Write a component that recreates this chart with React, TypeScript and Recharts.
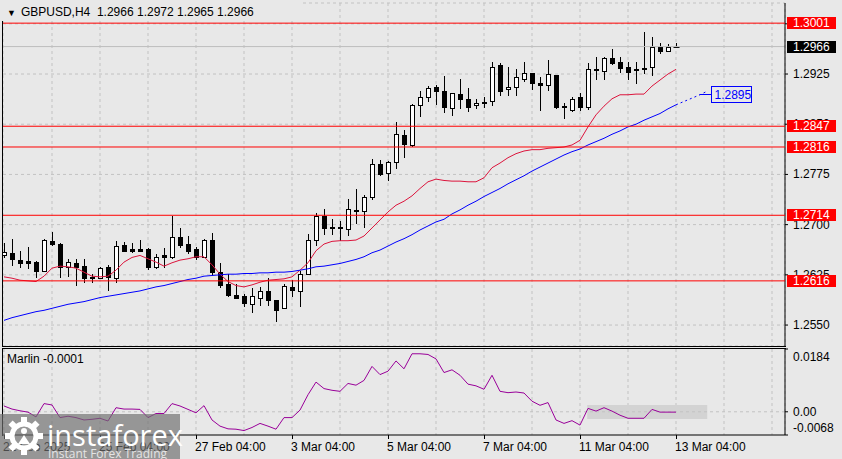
import React from 'react';
import {
  ComposedChart,
  Bar,
  Line,
  XAxis,
  YAxis,
  CartesianGrid,
  ReferenceLine,
  ReferenceArea,
  ReferenceDot,
} from 'recharts';

const FONT = "'Liberation Sans', Arial, sans-serif";
const BG = '#e8e8e8';
const GRID = '#c2c2c2';

// GBPUSD H4, 21 Feb 2025 04:00 .. 13 Mar 2025 04:00
const openPrices = [
  1.2655, 1.2658, 1.2647, 1.2645, 1.2644, 1.2631, 1.2676, 1.2671, 1.2636, 1.2642,
  1.2638, 1.2622, 1.2621, 1.2637, 1.2621, 1.267, 1.2663, 1.2664, 1.2664, 1.2637,
  1.2654, 1.2652, 1.2681, 1.2671, 1.2664, 1.2652, 1.2677, 1.2629, 1.2611, 1.2595,
  1.2593, 1.2582, 1.2591, 1.2601, 1.2587, 1.2576, 1.2607, 1.2601, 1.2627, 1.2677,
  1.2713, 1.2697, 1.2695, 1.2693, 1.2721, 1.272, 1.2741, 1.279, 1.2777, 1.2794,
  1.2834, 1.2819, 1.2878, 1.289, 1.2906, 1.29, 1.2874, 1.2895, 1.2887, 1.2878,
  1.2883, 1.2884, 1.2939, 1.2902, 1.2905, 1.2917, 1.2926, 1.2911, 1.2908, 1.2923,
  1.2877, 1.2871, 1.289, 1.2875, 1.2931, 1.293, 1.2949, 1.2943, 1.2935, 1.2932,
  1.2934, 1.2935, 1.2966, 1.296, 1.2966,
];
const highPrices = [
  1.2673, 1.2678, 1.266, 1.2666, 1.2645, 1.2678, 1.2689, 1.2673, 1.2649, 1.2649,
  1.2648, 1.2627, 1.2637, 1.264, 1.2676, 1.2674, 1.2673, 1.2677, 1.2665, 1.2656,
  1.2665, 1.2713, 1.2695, 1.2683, 1.2666, 1.2678, 1.2687, 1.2643, 1.2626, 1.2612,
  1.2597, 1.2605, 1.2607, 1.262, 1.2588, 1.2611, 1.2617, 1.2631, 1.2686, 1.2717,
  1.2724, 1.2708, 1.2705, 1.2739, 1.2753, 1.2744, 1.2798, 1.2796, 1.2795, 1.2854,
  1.2841, 1.288, 1.29, 1.2907, 1.2908, 1.2922, 1.2897, 1.2918, 1.2904, 1.2888,
  1.289, 1.2943, 1.2941, 1.2935, 1.2933, 1.2943, 1.2927, 1.2921, 1.2946, 1.2924,
  1.2881, 1.289, 1.2896, 1.2941, 1.295, 1.295, 1.2963, 1.295, 1.2943, 1.2943,
  1.2988, 1.2981, 1.2971, 1.297, 1.2972,
];
const lowPrices = [
  1.2652, 1.264, 1.2637, 1.2635, 1.2622, 1.263, 1.267, 1.2622, 1.2623, 1.261,
  1.2614, 1.2614, 1.262, 1.2602, 1.2614, 1.266, 1.2659, 1.266, 1.2633, 1.2635,
  1.2636, 1.265, 1.2666, 1.2658, 1.2648, 1.2651, 1.2625, 1.2607, 1.2593, 1.259,
  1.2578, 1.257, 1.258, 1.258, 1.2556, 1.2575, 1.2594, 1.2579, 1.2626, 1.267,
  1.2686, 1.2686, 1.2677, 1.2685, 1.2702, 1.2697, 1.2739, 1.2774, 1.2766, 1.2785,
  1.2801, 1.2818, 1.2863, 1.2885, 1.288, 1.2868, 1.2864, 1.2874, 1.287, 1.2874,
  1.2875, 1.2878, 1.2893, 1.2893, 1.2894, 1.2914, 1.2903, 1.2871, 1.2901, 1.2874,
  1.286, 1.287, 1.2871, 1.2873, 1.2917, 1.2918, 1.294, 1.2928, 1.2917, 1.2911,
  1.2926, 1.2924, 1.2957, 1.2959, 1.2965,
];
const closePrices = [
  1.2659, 1.2648, 1.2643, 1.2642, 1.263, 1.2677, 1.2671, 1.2637, 1.2644, 1.2637,
  1.262, 1.262, 1.2635, 1.2622, 1.2668, 1.2661, 1.266, 1.2661, 1.2636, 1.2651,
  1.2651, 1.2682, 1.267, 1.2661, 1.2652, 1.2677, 1.2629, 1.261, 1.2595, 1.2591,
  1.2583, 1.2593, 1.2601, 1.2588, 1.2572, 1.2609, 1.2602, 1.2627, 1.2677, 1.2713,
  1.2695, 1.2695, 1.2696, 1.2723, 1.2722, 1.2741, 1.279, 1.2775, 1.2793, 1.2835,
  1.282, 1.2879, 1.289, 1.2904, 1.29, 1.2875, 1.2896, 1.2887, 1.2876, 1.2881,
  1.2881, 1.2936, 1.29, 1.2906, 1.292, 1.2927, 1.2911, 1.2908, 1.2925, 1.2875,
  1.2875, 1.2888, 1.2875, 1.2932, 1.2932, 1.2949, 1.2941, 1.2934, 1.2928, 1.2931,
  1.2932, 1.2966, 1.2959, 1.2965, 1.2966,
];

// moving averages (red = fast, blue = slow)
const fastMa = [
  1.2622, 1.262, 1.2617, 1.2616, 1.2615, 1.2623, 1.2635, 1.2638, 1.2637, 1.2635,
  1.2629, 1.2623, 1.2622, 1.2623, 1.2632, 1.2644, 1.2651, 1.2654, 1.2649, 1.2644,
  1.2638, 1.2643, 1.2647, 1.2649, 1.2652, 1.2652, 1.264, 1.2626, 1.2615, 1.2609,
  1.2607, 1.261, 1.2614, 1.2617, 1.2618, 1.2619, 1.2622, 1.2632, 1.2643, 1.2661,
  1.2671, 1.2675, 1.2676, 1.2676, 1.2677, 1.2683, 1.2695, 1.2707, 1.2719, 1.2729,
  1.2735, 1.2743, 1.2754, 1.2764, 1.2768, 1.2766, 1.2765, 1.2765, 1.2764, 1.2764,
  1.277, 1.2785, 1.2792, 1.28, 1.2806, 1.281, 1.2812, 1.2812, 1.2814, 1.2815,
  1.2816, 1.2819, 1.2826, 1.2846, 1.2864, 1.2877, 1.2888, 1.2894, 1.2894, 1.2895,
  1.2895, 1.2907, 1.2916, 1.2925, 1.2932,
];
const slowMa = [
  1.2557, 1.2561, 1.2564, 1.2567, 1.257, 1.2572, 1.2575, 1.2578, 1.2581, 1.2583,
  1.2585, 1.2588, 1.2591, 1.2593, 1.2595, 1.2597, 1.2599, 1.2601, 1.2604, 1.2607,
  1.2609, 1.2612, 1.2615, 1.2618, 1.262, 1.2623, 1.2624, 1.2625, 1.2626, 1.2626,
  1.2627, 1.2627, 1.2628, 1.2628, 1.2629, 1.2629, 1.263, 1.2632, 1.2634, 1.2637,
  1.2638, 1.264, 1.2642, 1.2645, 1.2648, 1.2652, 1.2658, 1.2662, 1.2668, 1.2674,
  1.2679, 1.2685, 1.2692, 1.2698, 1.2704, 1.2708, 1.2716, 1.2722, 1.2729, 1.2735,
  1.2742, 1.2748, 1.2754, 1.2761, 1.2767, 1.2773, 1.278, 1.2786, 1.2792, 1.2798,
  1.2804, 1.2809, 1.2813, 1.2819, 1.2824, 1.2829, 1.2835, 1.284, 1.2846, 1.285,
  1.2856, 1.2861, 1.2866, 1.2873, 1.2879,
];
// dotted continuation of the blue line, from the last bar onwards
const slowMaProjection = [1.2879, 1.2884, 1.2889, 1.2894, 1.29];

const marlin = [
  0.0017, 0.0008, 0.0003, -0.0001, -0.0015, 0.0024, 0.002, -0.0017, -0.0013, -0.0017,
  -0.0024, -0.0022, -0.0019, -0.0027, 0.0012, 0.0008, 0.0008, 0.0007, -0.0017, -0.0005,
  -0.0005, 0.0024, 0.0017, 0.0007, -0.0003, 0.0018, -0.0024, -0.0042, -0.005, -0.0051,
  -0.0055, -0.0046, -0.0034, -0.0042, -0.0051, -0.0017, -0.0017, 0.0005, 0.005, 0.0087,
  0.0068, 0.0063, 0.006, 0.0083, 0.0078, 0.0092, 0.0133, 0.0109, 0.0119, 0.0149,
  0.0126, 0.017, 0.017, 0.0168, 0.0155, 0.0115, 0.0123, 0.0107, 0.0081, 0.0076,
  0.0066, 0.0107, 0.006, 0.0056, 0.0058, 0.0055, 0.0031, 0.0019, 0.0027, -0.0024,
  -0.0034, -0.0026, -0.0039, 0.001, 0.0002, 0.0012, 0.0002, -0.001, -0.0019, -0.0019,
  -0.0019, 0.0007, -0.0001, -0.0001, -0.0001,
];

const levels = [1.3001, 1.2847, 1.2816, 1.2714, 1.2616];
const lastPrice = 1.2966;
const slowMaTag = 1.2895;
const priceTicks = [1.255, 1.2625, 1.27, 1.2775, 1.285, 1.2925, 1.3];
const marlinTicks = [0.0184, 0, -0.0068];
const timeLabels = [
  '21 Feb 2025', '25 Feb 04:00', '27 Feb 04:00', '3 Mar 04:00',
  '5 Mar 04:00', '7 Mar 04:00', '11 Mar 04:00', '13 Mar 04:00',
];
const timeLabelBars = [0, 12, 24, 36, 48, 60, 72, 84];
const gridBars = [6, 12, 18, 24, 30, 36, 42, 48, 54, 60, 66, 72, 78, 84, 90, 96];

const X_DOMAIN: [number, number] = [-0.125, 97.625];
const PRICE_DOMAIN: [number, number] = [1.25187, 1.30311];
const MARLIN_DOMAIN: [number, number] = [-0.0068, 0.0184];
// shaded band in the Marlin window
const MARLIN_BAND = { x1: 72.9, x2: 87.9, y1: -0.0021, y2: 0.002 };

const lastBar = openPrices.length - 1;
const rows = Array.from({ length: openPrices.length + slowMaProjection.length - 1 }, (_, i) => {
  const isBar = i <= lastBar;
  return {
    i,
    range: isBar ? [lowPrices[i], highPrices[i]] : undefined,
    o: isBar ? openPrices[i] : undefined,
    h: isBar ? highPrices[i] : undefined,
    l: isBar ? lowPrices[i] : undefined,
    c: isBar ? closePrices[i] : undefined,
    fast: isBar ? fastMa[i] : undefined,
    slow: isBar ? slowMa[i] : undefined,
    proj: i >= lastBar ? slowMaProjection[i - lastBar] : undefined,
    marlin: isBar ? marlin[i] : undefined,
  };
});

const Candle = (props: any) => {
  const { x, y, width, height, payload } = props;
  if (!payload || payload.h == null || !isFinite(y)) return null;
  const cx = Math.round(x + width / 2) + 0.5;
  const span = payload.h - payload.l || 1;
  const toY = (v: number) => y + ((payload.h - v) / span) * height;
  const yo = toY(payload.o);
  const yc = toY(payload.c);
  const top = Math.round(Math.min(yo, yc));
  const bot = Math.round(Math.max(yo, yc));
  const bull = payload.c >= payload.o;
  return (
    <g>
      <line x1={cx} x2={cx} y1={Math.round(y)} y2={Math.round(y + height) + 1} stroke="#000" />
      {bot - top < 1 ? (
        <line x1={cx - 3} x2={cx + 3} y1={top + 0.5} y2={top + 0.5} stroke="#000" />
      ) : (
        <rect x={cx - 2} y={top + 0.5} width={4} height={bot - top} fill={bull ? '#fff' : '#000'} stroke="#000" />
      )}
    </g>
  );
};

const PriceTick = ({ x, y, payload }: any) => (
  <text x={x} y={y + 4} fontSize={12} fontFamily={FONT} fill="#000">
    {payload.value.toFixed(4)}
  </text>
);

const LevelTag = ({ viewBox, text, bg }: any) => {
  if (!viewBox) return null;
  const x = viewBox.x + viewBox.width + 2;
  const y = Math.round(viewBox.y);
  return (
    <g>
      <rect x={x} y={y - 6} width={49} height={12} fill={bg} />
      <text x={x + 6} y={y + 4} fontSize={12} fontFamily={FONT} fill="#fff">
        {text}
      </text>
    </g>
  );
};

const MaTag = (props: any) => {
  const { cx, cy } = props;
  const y = Math.round(cy) + 0.5;
  const x = Math.round(cx) + 0.5;
  return (
    <g>
      <line x1={x - 12} x2={x} y1={y} y2={y} stroke="#0000ff" />
      <rect x={x} y={y - 8} width={40} height={16} fill="none" stroke="#0000ff" />
      <text x={x + 3} y={y + 4} fontSize={12} fontFamily={FONT} fill="#0000ff">
        {slowMaTag.toFixed(4)}
      </text>
    </g>
  );
};

const MarlinTick = ({ x, y, payload }: any) => {
  const v = payload.value;
  const shift = v > 0.001 ? 8 : v < -0.001 ? -7 : 0;
  const label = v === 0 ? '0.00' : v.toFixed(4);
  return (
    <text x={x} y={y + shift + 4} fontSize={12} fontFamily={FONT} fill="#000">
      {label}
    </text>
  );
};

const TimeTick = ({ x, y, payload }: any) => {
  const k = timeLabelBars.indexOf(payload.value);
  if (k < 0) return null;
  const px = Math.round(x) + 0.5;
  return (
    <g>
      <line x1={px} x2={px} y1={y - 5} y2={y - 1} stroke="#000" />
      <text x={x - 1} y={y + 11} fontSize={12} fontFamily={FONT} fill="#000">
        {timeLabels[k]}
      </text>
    </g>
  );
};

const Gear = () => (
  <svg width={40} height={40} viewBox="0 0 40 40" style={{ position: 'absolute', left: 4, top: 2 }}>
    {[0, 45, 90, 135, 180, 225, 270, 315].map((a) => (
      <rect key={a} x={17} y={1} width={6} height={8} fill="#fff" transform={`rotate(${a} 20 20)`} />
    ))}
    <circle cx={20} cy={20} r={12} fill="none" stroke="#fff" strokeWidth={5} />
    <circle cx={20} cy={15} r={3} fill="#fff" />
    <path d="M14 28 L20 19 L26 28 Z" fill="#fff" />
  </svg>
);

const App: React.FC = () => {
  return (
    <div style={{ position: 'absolute', left: 0, top: 0, width: 842, height: 459, background: BG, overflow: 'hidden', fontFamily: FONT }}>
      {/* price window */}
      <div style={{ position: 'absolute', left: 0, top: 0 }}>
        <ComposedChart width={842} height={348} data={rows} margin={{ top: 3, right: 0, bottom: 2, left: 3 }}>
          <CartesianGrid stroke={GRID} strokeDasharray="3 3" />
          <XAxis type="number" dataKey="i" domain={X_DOMAIN} ticks={gridBars} hide allowDataOverflow />
          <YAxis
            orientation="right"
            type="number"
            domain={PRICE_DOMAIN}
            ticks={priceTicks}
            interval={0}
            allowDataOverflow
            width={57}
            axisLine={{ stroke: '#000' }}
            tickLine={{ stroke: '#000' }}
            tickSize={3}
            tickMargin={5}
            tick={<PriceTick />}
          />
          <ReferenceLine y={lastPrice} stroke="#bdbdbd" />
          <Bar dataKey="range" barSize={5} shape={<Candle />} isAnimationActive={false} />
          <Line type="linear" dataKey="fast" stroke="#dc143c" strokeWidth={1} dot={false} isAnimationActive={false} />
          <Line type="linear" dataKey="slow" stroke="#0000ff" strokeWidth={1} dot={false} isAnimationActive={false} />
          <Line type="linear" dataKey="proj" stroke="#0000ff" strokeWidth={1} strokeDasharray="2 3" dot={false} isAnimationActive={false} />
        </ComposedChart>
      </div>

      {/* level lines and their tags, drawn on top */}
      <div style={{ position: 'absolute', left: 0, top: 0 }}>
        <ComposedChart width={842} height={348} data={rows} margin={{ top: 3, right: 0, bottom: 2, left: 3 }}>
          <XAxis type="number" dataKey="i" domain={X_DOMAIN} hide allowDataOverflow />
          <YAxis orientation="right" type="number" domain={PRICE_DOMAIN} allowDataOverflow width={57} tick={false} axisLine={false} tickLine={false} />
          {levels.map((lv) => (
            <ReferenceLine
              key={lv}
              y={lv}
              stroke="#ff0000"
              strokeWidth={1}
              label={(p: any) => <LevelTag {...p} text={lv.toFixed(4)} bg="#ff0000" />}
            />
          ))}
          <ReferenceLine
            y={lastPrice}
            stroke="none"
            label={(p: any) => <LevelTag {...p} text={lastPrice.toFixed(4)} bg="#000000" />}
          />
          <ReferenceDot x={88.35} y={slowMaTag} r={0} shape={<MaTag />} />
        </ComposedChart>
      </div>

      {/* Marlin window */}
      <div style={{ position: 'absolute', left: 0, top: 348 }}>
        <ComposedChart width={842} height={111} data={rows} margin={{ top: 1, right: 0, bottom: 0, left: 3 }}>
          <CartesianGrid stroke={GRID} strokeDasharray="3 3" horizontal={false} />
          <ReferenceArea
            x1={MARLIN_BAND.x1}
            x2={MARLIN_BAND.x2}
            y1={MARLIN_BAND.y1}
            y2={MARLIN_BAND.y2}
            fill="#d3d3d3"
            fillOpacity={1}
            stroke="none"
          />
          <ReferenceLine y={0} stroke={GRID} strokeDasharray="3 3" />
          <XAxis
            type="number"
            dataKey="i"
            domain={X_DOMAIN}
            ticks={[0, ...gridBars]}
            interval={0}
            allowDataOverflow
            height={24}
            axisLine={{ stroke: '#000' }}
            tickLine={false}
            tickSize={3}
            tickMargin={2}
            tick={<TimeTick />}
          />
          <YAxis
            orientation="right"
            type="number"
            domain={MARLIN_DOMAIN}
            ticks={marlinTicks}
            interval={0}
            allowDataOverflow
            width={57}
            axisLine={{ stroke: '#000' }}
            tickLine={{ stroke: '#000' }}
            tickSize={3}
            tickMargin={5}
            tick={<MarlinTick />}
          />
          <Line type="linear" dataKey="marlin" stroke="#990099" strokeWidth={1} dot={false} isAnimationActive={false} />
        </ComposedChart>
      </div>

      {/* window frames */}
      <div style={{ position: 'absolute', left: 2, top: 21, width: 1, height: 326, background: '#000' }} />
      <div style={{ position: 'absolute', left: 2, top: 346, width: 784, height: 1, background: '#000' }} />
      <div style={{ position: 'absolute', left: 2, top: 348, width: 784, height: 1, background: '#000' }} />
      <div style={{ position: 'absolute', left: 2, top: 348, width: 1, height: 88, background: '#000' }} />

      {/* title */}
      <div style={{ position: 'absolute', left: 0, top: 0, width: 300, height: 21, background: BG }} />
      <div style={{ position: 'absolute', left: 7, top: 5, fontSize: 12, color: '#000', whiteSpace: 'pre' }}>
        <span style={{ fontSize: 9, marginRight: 5 }}>▼</span>
        {'GBPUSD,H4  1.2966 1.2972 1.2965 1.2966'}
      </div>
      <div style={{ position: 'absolute', left: 7, top: 352, fontSize: 12, color: '#000' }}>Marlin -0.0001</div>

      {/* watermark, translucent so the axis labels show through */}
      <div style={{ position: 'absolute', left: 0, top: 414, width: 180, height: 45, background: 'rgba(110,110,110,0.68)' }}>
        <Gear />
        <div style={{ position: 'absolute', left: 47, top: 1, fontSize: 29, color: '#fff', fontFamily: "'Open Sans', sans-serif" }}>
          instaforex
        </div>
        <div style={{ position: 'absolute', left: 48, top: 31, fontSize: 12, color: '#e4e4e4', fontFamily: "'Open Sans', sans-serif" }}>
          Instant Forex Trading
        </div>
      </div>
    </div>
  );
};

export default App;
